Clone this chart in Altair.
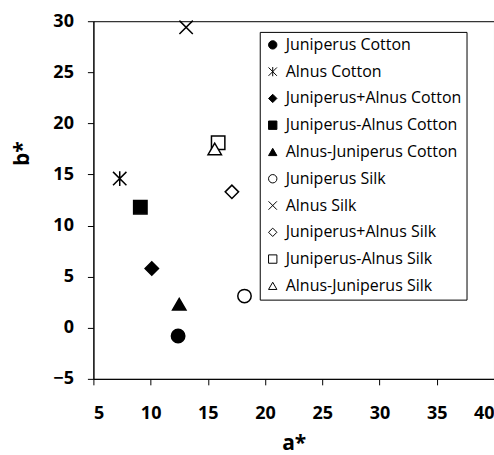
import altair as alt
import pandas as pd

series = [
    "Juniperus Cotton", "Alnus Cotton", "Juniperus+Alnus Cotton",
    "Juniperus-Alnus Cotton", "Alnus-Juniperus Cotton", "Juniperus Silk",
    "Alnus Silk", "Juniperus+Alnus Silk", "Juniperus-Alnus Silk",
    "Alnus-Juniperus Silk",
]
a_star = [12.4, 7.3, 10.1, 9.1, 12.5, 18.2, 13.1, 17.1, 15.9, 15.6]
b_star = [-0.8, 14.6, 5.8, 11.8, 2.3, 3.1, 29.4, 13.3, 18.1, 17.5]

ASTER = "M-1,-1L1,1M-1,1L1,-1M0,-1.1L0,1.1"
XMARK = "M-1,-1L1,1M-1,1L1,-1"
shapes = ["circle", ASTER, "diamond", "square", "triangle-up",
          "circle", XMARK, "diamond", "square", "triangle-up"]
fills = ["black", "black", "black", "black", "black",
         "white", "white", "white", "white", "white"]
strokes = ["black"] * 10

df = pd.DataFrame({"series": series, "a": a_star, "b": b_star})

FONT = "Open Sans"

leg = alt.Legend(title=None, orient="none", legendX=166.5, legendY=10.7)

chart = alt.Chart(df).mark_point(filled=True, size=180, strokeWidth=1.5, opacity=1).encode(
    x=alt.X("a:Q", title="a*",
            scale=alt.Scale(domain=[5, 40], nice=False, zero=False),
            axis=alt.Axis(values=[5, 10, 15, 20, 25, 30, 35, 40], grid=False)),
    y=alt.Y("b:Q", title="b*",
            scale=alt.Scale(domain=[-5, 30], nice=False, zero=False),
            axis=alt.Axis(values=[-5, 0, 5, 10, 15, 20, 25, 30], grid=False)),
    shape=alt.Shape("series:N", sort=series,
                    scale=alt.Scale(domain=series, range=shapes), legend=leg),
    fill=alt.Fill("series:N", sort=series,
                  scale=alt.Scale(domain=series, range=fills), legend=leg),
    stroke=alt.Stroke("series:N", sort=series,
                      scale=alt.Scale(domain=series, range=strokes), legend=leg),
).properties(
    width=401, height=358,
    autosize=alt.AutoSizeParams(type="none"),
    padding={"left": 93.5, "top": 21, "right": 0, "bottom": 76},
).configure_view(
    stroke="black", strokeWidth=1
).configure_axis(
    domainColor="black", tickColor="black", tickSize=6,
    labelFont=FONT, labelFontSize=18, labelFontWeight="bold", labelColor="black",
    titleFont=FONT, titleFontSize=21, titleFontWeight="bold", titleColor="black",
).configure_axisX(
    labelPadding=20, titlePadding=10
).configure_axisY(
    labelPadding=14, titleAngle=-90, titleX=-61, titleY=132
).configure_legend(
    strokeColor="black", fillColor="white", padding=5,
    labelFont=FONT, labelFontSize=16, labelColor="black", labelLimit=300,
    symbolSize=70, symbolStrokeWidth=1,
    rowPadding=10.8, symbolOffset=0, labelOffset=5, cornerRadius=0,
)

chart.save("out.html", embed_options={"renderer": "svg", "actions": False})
